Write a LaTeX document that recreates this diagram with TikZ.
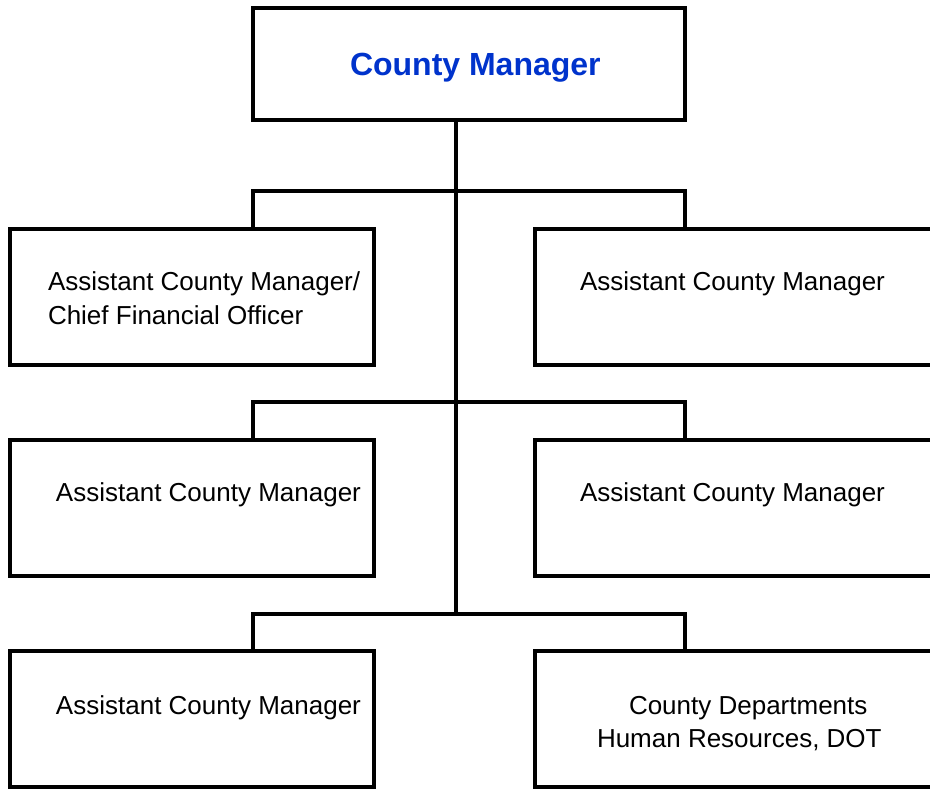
\documentclass[tikz,border=0pt]{standalone}
\usepackage{fontspec}
\setmainfont{Liberation Sans}
\definecolor{cmblue}{RGB}{0,51,204}
\begin{document}
\begin{tikzpicture}[x=1pt,y=-1pt,
  box/.style={draw=black,line width=4.5pt,rectangle,inner sep=0pt,outer sep=0pt,fill=white},
  conn/.style={draw=black,line width=4.5pt},
  lbl/.style={anchor=base west,inner sep=0pt,outer sep=0pt,font=\fontsize{26}{34}\selectfont},
  title/.style={anchor=base west,inner sep=0pt,outer sep=0pt,font=\fontsize{32}{38}\selectfont\bfseries,text=cmblue}]
\useasboundingbox (0,0) rectangle (930,789);
\clip (0,0) rectangle (930,789);
% boxes
\node[box,minimum width=432pt,minimum height=112pt] (cm) at (469,64) {};
\node[box,minimum width=364pt,minimum height=136pt] (l1) at (192,297) {};
\node[box,minimum width=425pt,minimum height=136pt] (r1) at (747.5,297) {};
\node[box,minimum width=364pt,minimum height=136pt] (l2) at (192,508) {};
\node[box,minimum width=425pt,minimum height=136pt] (r2) at (747.5,508) {};
\node[box,minimum width=364pt,minimum height=136pt] (l3) at (192,719) {};
\node[box,minimum width=425pt,minimum height=136pt] (r3) at (747.5,719) {};
% junctions
\coordinate (j1) at (456,191);
\coordinate (j2) at (456,402);
\coordinate (j3) at (456,614);
% connectors
\draw[conn] (cm.south -| j1) -- (j3);
\draw[conn] (l1.north -| cm.west) |- (j1) -| (r1.north -| cm.east);
\draw[conn] (l2.north -| cm.west) |- (j2) -| (r2.north -| cm.east);
\draw[conn] (l3.north -| cm.west) |- (j3) -| (r3.north -| cm.east);
% texts
\node[title] (tcm) at (350,76) {County Manager};
\node[lbl] (tl1a) at (48,290) {Assistant County Manager/};
\node[lbl] (tl1b) at (48,324) {Chief Financial Officer};
\node[lbl] (tr1) at (580,290) {Assistant County Manager};
\node[lbl] (tl2) at (56,501) {Assistant County Manager};
\node[lbl] (tr2) at (580,501) {Assistant County Manager};
\node[lbl] (tl3) at (56,714) {Assistant County Manager};
\node[lbl] (tr3a) at (629,714) {County Departments};
\node[lbl] (tr3b) at (597,747) {Human Resources, DOT};
\end{tikzpicture}
\end{document}
